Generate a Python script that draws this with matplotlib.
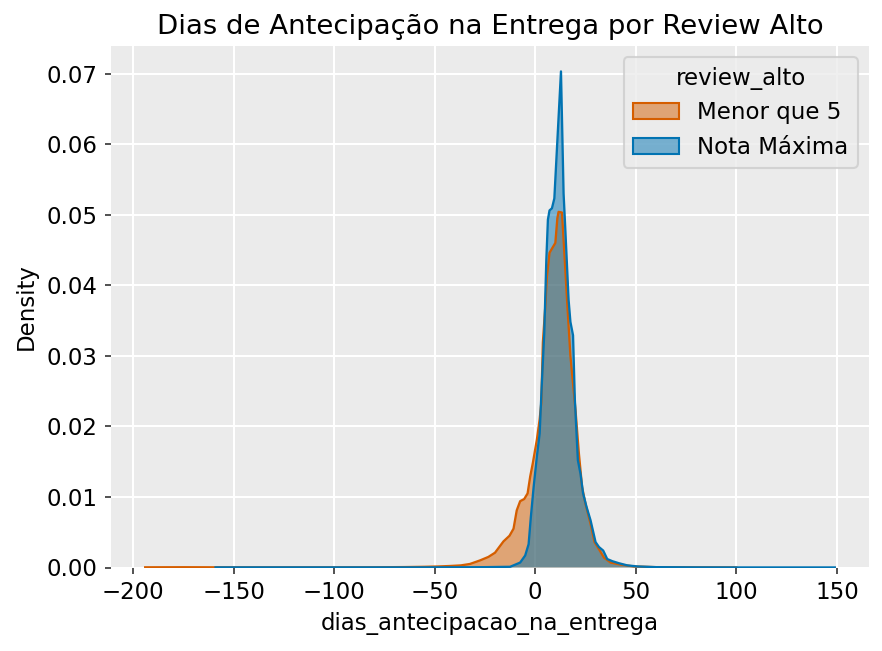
import matplotlib
matplotlib.use('Agg')
from matplotlib import pyplot as plt
from matplotlib.colors import to_rgba
from matplotlib.patches import Patch

# densidade estimada - review "Menor que 5"
x_menor = [-194, -175, -160, -140, -120, -100, -80, -65, -55, -48, -42, -37,
           -32.5, -27.5, -23.3, -20, -15.8, -12.8, -10.8, -9.2, -7.5, -5.5,
           -3.8, -2.5, -1.2, 0.8, 2.2, 3, 3.8, 5, 5.8, 7.1, 10, 11, 11.6,
           13.3, 14.5, 15.8, 17.5, 20, 21.7, 23.3, 25, 27.5, 29.5, 31.7,
           34.2, 37.5, 42.5, 49, 60, 80, 100]
d_menor = [0.00003, 0.00004, 0.00003, 0.00002, 0.00002, 0.00002, 0.00003,
           0.00006, 0.0001, 0.00015, 0.00022, 0.0003, 0.0005, 0.001, 0.0015,
           0.0021, 0.0037, 0.0045, 0.0055, 0.0081, 0.0094, 0.0097, 0.0105,
           0.0129, 0.0148, 0.0181, 0.021, 0.0233, 0.0319, 0.037, 0.0412,
           0.0446, 0.046, 0.0495, 0.0504, 0.0503, 0.0445, 0.038, 0.03, 0.0224,
           0.0162, 0.0114, 0.009, 0.0062, 0.0036, 0.0026, 0.0014, 0.0007,
           0.0004, 0.00015, 0.00005, 0.00002, 0.00001]

# review "Nota Máxima"
x_maxima = [-159, -140, -120, -100, -80, -60, -40, -25, -18, -12.5, -7.5, -5,
            -3.3, -2.2, -0.8, 0.8, 2.2, 3.3, 4.5, 5.5, 6.3, 7.1, 8.3, 9.5,
            12.8, 14.1, 14.9, 16.6, 17.5, 18.8, 19.7, 21.2, 22.5, 23.8, 25.5,
            27.5, 30, 31.7, 33.8, 35.8, 38.3, 41.7, 45.8, 50.8, 60, 80, 100,
            125, 149]
d_maxima = [0.00002, 0.00002, 0.00002, 0.00002, 0.00002, 0.00002, 0.00003,
            0.00005, 0.00008, 0.0001, 0.0007, 0.0017, 0.0033, 0.0071, 0.0114,
            0.0157, 0.019, 0.0262, 0.0333, 0.0435, 0.0493, 0.0506, 0.0509,
            0.0523, 0.0703, 0.053, 0.0483, 0.0379, 0.0348, 0.0329, 0.0238,
            0.0152, 0.0133, 0.0105, 0.0086, 0.0067, 0.0036, 0.0029, 0.0024,
            0.0012, 0.0009, 0.0006, 0.0003, 0.00015, 0.00005, 0.00002,
            0.00001, 0.00001, 0.00001]

grupos = ['Menor que 5', 'Nota Máxima']
cores = ['#d55e00', '#0173b2']

plt.rcParams['font.size'] = 11

fig = plt.figure(figsize=(5.88, 4.34), dpi=150)
ax = fig.add_axes([111 / 882, 1 - 567.5 / 651, 758 / 882, 521.5 / 651])
ax.set_facecolor('#EBEBEB')
ax.grid(True, color='white', linewidth=1.0)
ax.set_axisbelow(True)
for s in ax.spines.values():
    s.set_visible(False)
ax.tick_params(length=3, width=0.8, color='#333333', labelsize=11)

for xs, ds, cor in [(x_menor, d_menor, cores[0]), (x_maxima, d_maxima, cores[1])]:
    ax.fill_between(xs, ds, facecolor=cor, alpha=0.5, linewidth=0)
    ax.plot(xs, ds, color=cor, linewidth=1.1)

ax.set_xlim(-211, 166)
ax.set_ylim(0, 0.0739)
ax.set_xticks([-200, -150, -100, -50, 0, 50, 100, 150])
ax.set_yticks([0, 0.01, 0.02, 0.03, 0.04, 0.05, 0.06, 0.07])
ax.set_yticklabels(['0.00', '0.01', '0.02', '0.03', '0.04', '0.05', '0.06', '0.07'])

ax.set_title('Dias de Antecipação na Entrega por Review Alto', fontsize=13.2)
ax.set_xlabel('dias_antecipacao_na_entrega', fontsize=11)
ax.set_ylabel('Density', fontsize=11)

handles = [Patch(facecolor=to_rgba(c, 0.5), edgecolor=c, linewidth=1.0) for c in cores]
leg = ax.legend(handles, grupos, title='review_alto', loc='upper right',
                fontsize=11, title_fontsize=11, facecolor='#EBEBEB',
                edgecolor='#CCCCCC', framealpha=0.8)

fig.savefig('out.png', dpi=150)
